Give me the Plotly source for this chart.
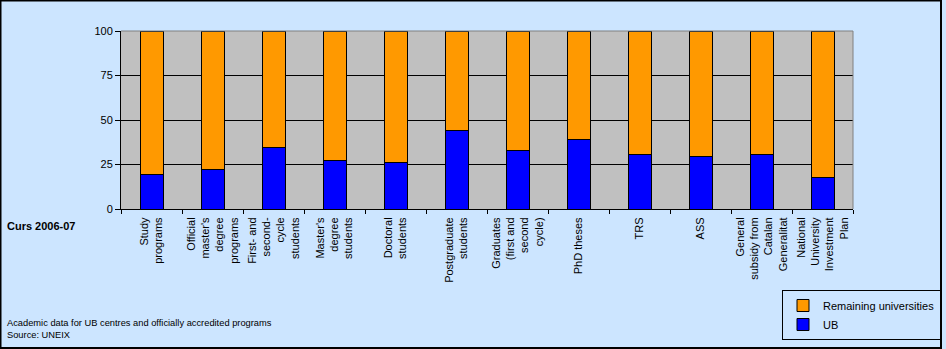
import plotly.graph_objects as go

categories = [
    "Study<br>programs",
    "Official<br>master's<br>degree<br>programs",
    "First- and<br>second-<br>cycle<br>students",
    "Master's<br>degree<br>students",
    "Doctoral<br>students",
    "Postgraduate<br>students",
    "Graduates<br>(first and<br>second<br>cycle)",
    "PhD theses",
    "TRS",
    "ASS",
    "General<br>subsidy from<br>Catalan<br>Generalitat",
    "National<br>University<br>Investment<br>Plan",
]
ub_values = [19.5, 22.1, 34.7, 27.1, 26.4, 44.2, 32.8, 38.9, 30.5, 29.4, 30.5, 17.6]
remaining_values = [round(100 - v, 1) for v in ub_values]
y_ticks = [0, 25, 50, 75, 100]

FONT = "Liberation Sans, Arial, sans-serif"
BG = "#CCE5FF"

L, R, T, B = 121, 853, 31, 209
PW, PH = R - L, B - T

def px(x):
    return (x - L) / PW

def py(y):
    return (B - y) / PH

fig = go.Figure()
fig.add_trace(go.Bar(
    x=categories, y=ub_values, name="UB",
    marker=dict(color="#0000FF", line=dict(color="black", width=1)),
    width=0.377,
))
fig.add_trace(go.Bar(
    x=categories, y=remaining_values, name="Remaining universities",
    marker=dict(color="#FF9900", line=dict(color="black", width=1)),
    width=0.377,
))

fig.update_layout(
    width=946, height=349,
    margin=dict(l=L, r=946 - R, t=T, b=349 - B, autoexpand=False),
    barmode="stack",
    paper_bgcolor=BG,
    plot_bgcolor="#C0C0C0",
    font=dict(family=FONT, size=11, color="black"),
    showlegend=True,
    legend=dict(
        x=px(941), xanchor="right",
        y=py(290), yanchor="top",
        bgcolor=BG, bordercolor="black", borderwidth=1,
        traceorder="reversed", itemwidth=30,
        font=dict(family=FONT, size=11),
        tracegroupgap=0,
    ),
    xaxis=dict(
        type="category", tickangle=-90, tickson="boundaries",
        ticks="outside", ticklen=4, tickcolor="black",
        showline=True, linecolor="black", linewidth=1,
        showgrid=False, tickfont=dict(family=FONT, size=11),
        ticklabelstandoff=3,
        fixedrange=True, automargin=False,
    ),
    yaxis=dict(
        range=[0, 100], tickvals=y_ticks,
        ticks="outside", ticklen=5, tickcolor="black",
        showline=True, linecolor="black", linewidth=1,
        showgrid=True, gridcolor="black", gridwidth=1,
        zeroline=False, tickfont=dict(family=FONT, size=11),
        fixedrange=True, automargin=False,
    ),
    shapes=[
        dict(type="line", xref="paper", yref="paper", x0=0, x1=1, y0=1, y1=1,
             line=dict(color="#808080", width=1), layer="above"),
        dict(type="line", xref="paper", yref="paper", x0=1, x1=1, y0=0, y1=1,
             line=dict(color="#808080", width=1), layer="above"),
        dict(type="rect", xref="paper", yref="paper",
             x0=px(0.5), x1=px(941), y0=py(348), y1=py(0.5),
             line=dict(color="black", width=2), layer="above"),
    ],
    annotations=[
        dict(text="<b>Curs 2006-07</b>", xref="paper", yref="paper",
             x=px(5), y=py(226), xanchor="left", yanchor="middle",
             showarrow=False, font=dict(family=FONT, size=11)),
        dict(text="Academic data for UB centres and officially accredited programs",
             xref="paper", yref="paper",
             x=px(5), y=py(323), xanchor="left", yanchor="middle",
             showarrow=False, font=dict(family=FONT, size=9.3)),
        dict(text="Source: UNEIX", xref="paper", yref="paper",
             x=px(5), y=py(335), xanchor="left", yanchor="middle",
             showarrow=False, font=dict(family=FONT, size=9.3)),
    ],
)

fig.write_html("out.html", config={"displayModeBar": False})
